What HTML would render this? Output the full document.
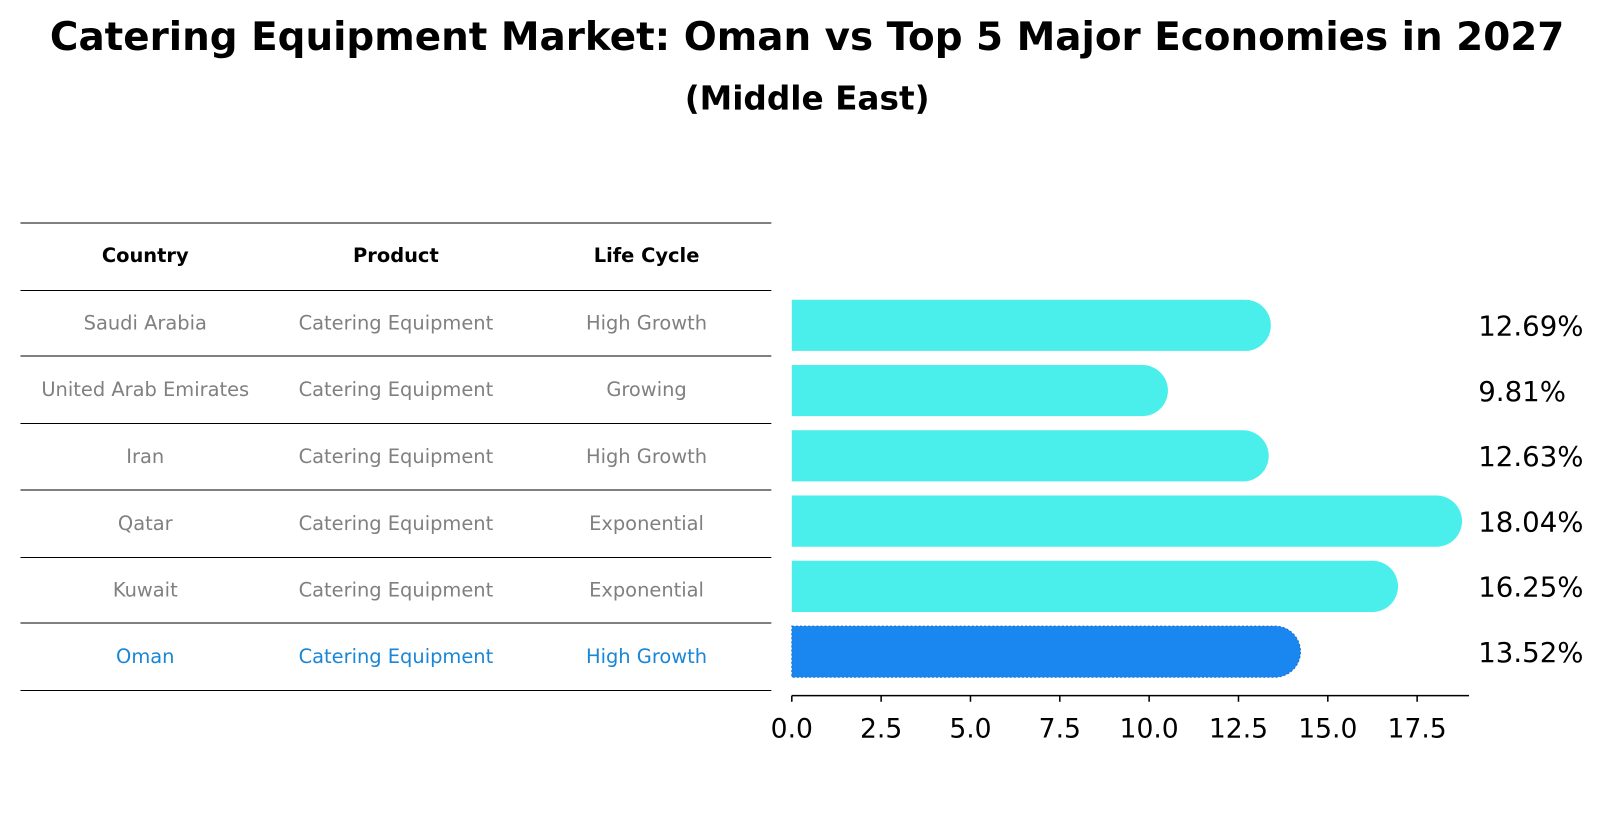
<!DOCTYPE html>
<html><head><meta charset="utf-8"><style>
body{margin:0;background:#fff;width:1604px;height:823px;overflow:hidden;font-family:"Liberation Sans","DejaVu Sans",sans-serif}
svg text{font-family:"DejaVu Sans","Liberation Sans",sans-serif}
</style></head><body>
<svg id="c" width="1604" height="823" xmlns="http://www.w3.org/2000/svg">
<g transform="scale(1.023)">
<text x="789" y="49" text-anchor="middle" font-size="38" font-weight="bold">Catering Equipment Market: Oman vs Top 5 Major Economies in 2027</text>
<text x="789" y="107" text-anchor="middle" font-size="32" font-weight="bold">(Middle East)</text>
<g id="table"></g>
<g id="bars"></g>
</g>
</svg>
<script>
const countries=["Saudi Arabia","United Arab Emirates","Iran","Qatar","Kuwait","Oman"];
const products=["Catering Equipment","Catering Equipment","Catering Equipment","Catering Equipment","Catering Equipment","Catering Equipment"];
const lifeCycles=["High Growth","Growing","High Growth","Exponential","Exponential","High Growth"];
const values=[12.69,9.81,12.63,18.04,16.25,13.52];
const valueLabels=["12.69%","9.81%","12.63%","18.04%","16.25%","13.52%"];
const ticks=[0,2.5,5,7.5,10,12.5,15,17.5];
const tickLabels=["0.0","2.5","5.0","7.5","10.0","12.5","15.0","17.5"];

const NS="http://www.w3.org/2000/svg";
function mk(tag,attrs,parent,txt){const e=document.createElementNS(NS,tag);for(const k in attrs)e.setAttribute(k,attrs[k]);if(txt!==undefined)e.textContent=txt;parent.appendChild(e);return e;}
const tbl=document.getElementById('table');
const lineYs=[218,284,348,414,479,545,609,675];
lineYs.forEach((y,i)=>{const l=mk('line',{x1:20,x2:754,y1:y,y2:y,stroke:'#000','stroke-width':1},tbl);

});
const colX=[142,387,632];
["Country","Product","Life Cycle"].forEach((h,i)=>{const t=mk('text',{x:colX[i],y:256,'text-anchor':'middle','font-size':19,'font-weight':'bold'},tbl,h);

});
countries.forEach((c,r)=>{
 const y=(lineYs[r+1]+lineYs[r+2])/2+6;
 const col=r===countries.length-1?'#1a86d6':'#808080';
 [c,products[r],lifeCycles[r]].forEach((v,i)=>{const t=mk('text',{x:colX[i],y:y,'text-anchor':'middle','font-size':19,fill:col},tbl,v);
 
 });
});
const g=document.getElementById('bars');
const x0=774,pxPer=34.93;
const xs=v=>x0+v*pxPer;
const rowY=i=>318+i*63.8;
const h=50,r=25;
values.forEach((v,i)=>{
 const cy=rowY(i),xe=xs(v);
 const oman=i===values.length-1;
 const p=mk('path',{d:`M${x0},${cy-h/2} L${xe},${cy-h/2} A${r},${r} 0 0 1 ${xe},${cy+h/2} L${x0},${cy+h/2} Z`,fill:oman?'#1a86f0':'#4aeeea',stroke:oman?'#1a70d0':'none','stroke-dasharray':oman?'2,2':'none','stroke-width':1},g);
 
 
 const t=mk('text',{x:1445,y:cy+10,'font-size':27},g,valueLabels[i]);
 
 
});
const ax=mk('line',{x1:x0,x2:1436,y1:680,y2:680,stroke:'#000','stroke-width':1.5},g);


ticks.forEach((tv,i)=>{const x=xs(tv);
 const l=mk('line',{x1:x,x2:x,y1:680,y2:686,stroke:'#000','stroke-width':1.5},g);
 
 
 const t=mk('text',{x:x,y:721,'text-anchor':'middle','font-size':26},g,tickLabels[i]);
 
 
});
</script>
</body></html>
